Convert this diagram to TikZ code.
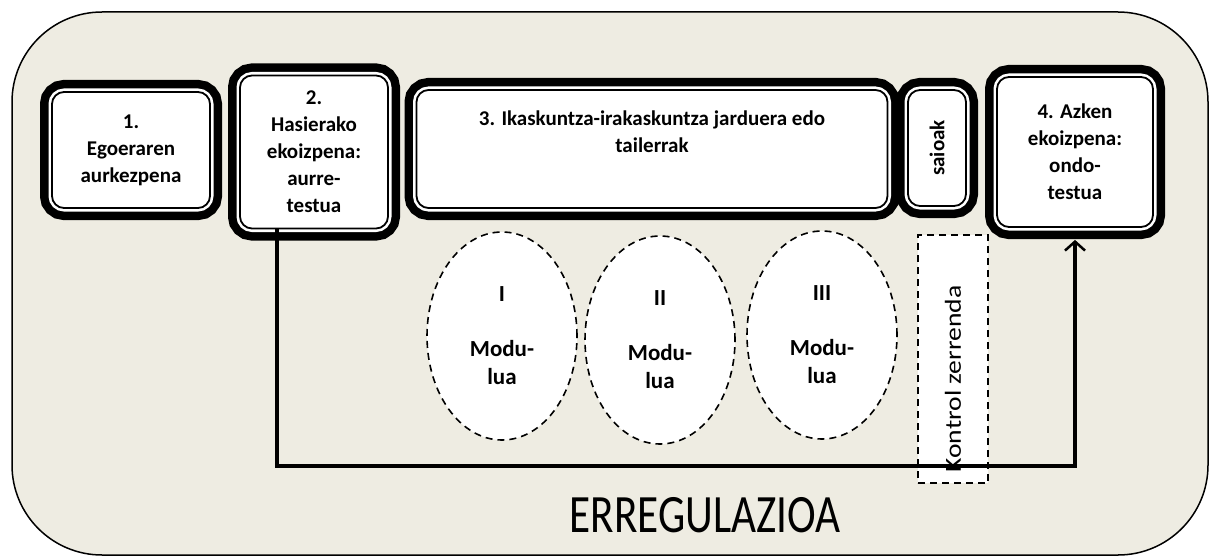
\documentclass[tikz,border=0pt]{standalone}
\usepackage{fontspec}
\setmainfont{Carlito}
\usepackage{xcolor}
\usetikzlibrary{shapes.geometric, arrows.meta, positioning, calc}
\definecolor{framebg}{RGB}{238,236,226}

\begin{document}
\begin{tikzpicture}[x=1pt, y=-1pt,
    stagebox/.style={rectangle, rounded corners=12pt, fill=white, draw=black, line width=1.8pt,
        preaction={draw=black, line width=24pt},
        preaction={draw=white, line width=7pt},
        align=center, inner sep=0pt, font=\bfseries\fontsize{21}{27}\selectfont},
    modulu/.style={ellipse, draw, fill=white, line width=1.6pt, dash pattern=on 7pt off 5pt,
        minimum width=150pt, minimum height=208pt, align=center, inner sep=0pt,
        font=\bfseries\fontsize{23}{28}\selectfont},
    regline/.style={line width=4pt, -{Straight Barb[length=9pt, width=20pt, line width=2.5pt]}}]
    \useasboundingbox (0,0) rectangle (1212,559);

    % Outer frame
    \draw[fill=framebg, line width=1.5pt, rounded corners=90pt] (12,12) rectangle (1208,555);

    % Stages
    \node[stagebox, minimum width=158pt, minimum height=116pt] (b1) at (131,150)
        {1.\\Egoeraren\\aurkezpena};
    \node[stagebox, minimum width=148pt, minimum height=153pt] (b2) at (314,152)
        {2.\\Hasierako\\ekoizpena:\\aurre-\\testua};
    \node[stagebox, minimum width=471pt, minimum height=118pt] (b3) at (652,149) {};
    \node[align=center, font=\bfseries\fontsize{21}{27}\selectfont, below=18pt of b3.north] (b3text)
        {3. Ikaskuntza-irakaskuntza jarduera edo\\tailerrak};
    \node[stagebox, minimum width=58pt, minimum height=116pt] (saio) at (937,148)
        {\rotatebox{90}{saioak}};
    \node[stagebox, minimum width=156pt, minimum height=150pt] (b4) at (1075,152)
        {4. Azken\\ekoizpena:\\ondo-\\testua};

    % Modules
    \node[modulu] (m1) at (502,336) {I\\[27pt]Modu-\\lua};
    \node[modulu] (m2) at (660,340) {II\\[27pt]Modu-\\lua};
    \node[modulu] (m3) at (822,335) {III\\[27pt]Modu-\\lua};

    % Kontrol zerrenda
    \node[draw, fill=white, line width=1.6pt, dash pattern=on 7pt off 5pt,
        minimum width=70pt, minimum height=248pt, inner sep=0pt] (kontrol) at (953,359)
        {\rotatebox{90}{\scalebox{1.2}[1]{\fontsize{23}{26}\selectfont Kontrol zerrenda}\hspace*{40pt}}};

    % Erregulazioa
    \coordinate (regL) at (277,466);
    \coordinate (regR) at (b4.south |- regL);
    \draw[regline] (b2.south -| regL) -- (regL) -- (regR) -- ([yshift=-12pt]b4.south);
    \node (erreg) at (705,515) {\scalebox{0.8}[1]{\fontsize{54}{60}\selectfont ERREGULAZIOA}};
\end{tikzpicture}
\end{document}
